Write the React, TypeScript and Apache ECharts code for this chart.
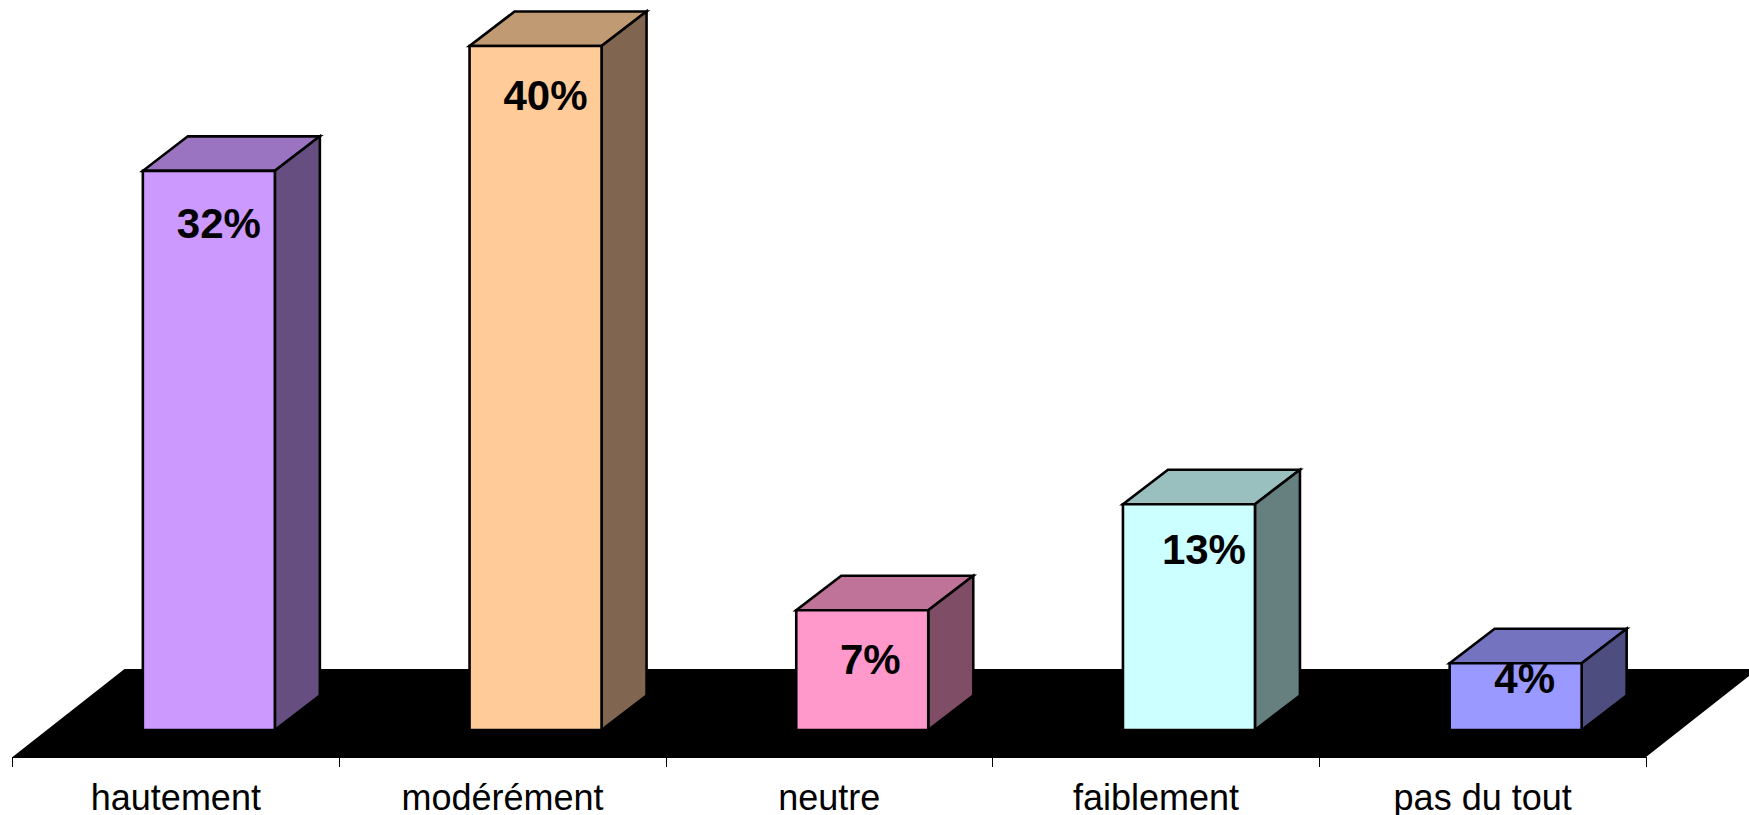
import React, { useEffect, useRef } from "react";
import * as echarts from "echarts";

const categories = ["hautement", "modérément", "neutre", "faiblement", "pas du tout"];
const barValues = [32.7, 40, 7, 13.2, 3.9];
const labelTexts = ["32%", "40%", "7%", "13%", "4%"];
const frontColors = ["#CC99FF", "#FFCC99", "#FF99CC", "#CCFFFF", "#9999FF"];
const topColors = ["#9A74C0", "#C09A73", "#BF7399", "#99BFBF", "#7373BF"];
const sideColors = ["#664E80", "#806650", "#804D66", "#668080", "#4D4D80"];
const labelDx = [10, 10, 8, 15, 9];
const labelDy = [53, 50, 49, 45, 15];

const DEPTH_X = 45;
const DEPTH_Y = 34.5;
const FLOOR_DX = 112;
const FLOOR_DY = 88;
const BAR_SHIFT = 33;
const BAR_WIDTH = 132;
const STROKE = { stroke: "#000", lineWidth: 2.6, lineJoin: "miter" as const };

const renderFloor = (params: any) => {
  const g = params.coordSys;
  const y = g.y + g.height;
  return {
    type: "polygon",
    shape: {
      points: [
        [g.x, y],
        [g.x + g.width, y],
        [g.x + g.width + FLOOR_DX, y - FLOOR_DY],
        [g.x + FLOOR_DX, y - FLOOR_DY],
      ],
    },
    style: { fill: "#000" },
  };
};

const renderBox = (params: any, api: any) => {
  const i = api.value(0);
  const top = api.coord([i, api.value(1)]);
  const base = api.coord([i, 0]);
  const l = top[0] + BAR_SHIFT - BAR_WIDTH / 2;
  const r = l + BAR_WIDTH;
  const t = top[1];
  const b = base[1];
  return {
    type: "group",
    children: [
      {
        type: "polygon",
        shape: { points: [[l, t], [r, t], [r + DEPTH_X, t - DEPTH_Y], [l + DEPTH_X, t - DEPTH_Y]] },
        style: { fill: topColors[i], ...STROKE },
      },
      {
        type: "polygon",
        shape: { points: [[r, t], [r + DEPTH_X, t - DEPTH_Y], [r + DEPTH_X, b - DEPTH_Y], [r, b]] },
        style: { fill: sideColors[i], ...STROKE },
      },
      {
        type: "polygon",
        shape: { points: [[l, t], [r, t], [r, b], [l, b]] },
        style: { fill: frontColors[i], ...STROKE },
      },
      {
        type: "text",
        style: {
          text: labelTexts[i],
          x: top[0] + BAR_SHIFT + labelDx[i],
          y: t + labelDy[i],
          fill: "#000",
          align: "center",
          verticalAlign: "middle",
          font: 'bold 42px "Liberation Sans", Arial, sans-serif',
        },
      },
    ],
  };
};

export default function App() {
  const ref = useRef<HTMLDivElement>(null);
  useEffect(() => {
    const chart = echarts.init(ref.current!, undefined, { renderer: "svg" });
    chart.setOption({
      animation: false,
      backgroundColor: "#fff",
      grid: { left: 12.5, width: 1633.5, top: 11.8, height: 745.5 },
      xAxis: {
        type: "category",
        data: categories,
        boundaryGap: true,
        axisLine: { onZero: false, lineStyle: { color: "#000", width: 1 } },
        axisTick: { show: true, length: 10, lineStyle: { color: "#000", width: 1 } },
        axisLabel: {
          color: "#000",
          fontSize: 36,
          fontFamily: '"Liberation Sans", Arial, sans-serif',
          margin: 22,
          interval: 0,
        },
      },
      yAxis: { type: "value", min: -1.58, max: 42, show: false, splitLine: { show: false } },
      series: [
        { type: "custom", z: 1, renderItem: renderFloor, data: [[0, 0]], silent: true },
        {
          type: "custom",
          z: 3,
          renderItem: renderBox,
          data: barValues.map((v, i) => [i, v]),
          silent: true,
        },
      ],
    });
    return () => chart.dispose();
  }, []);
  return (
    <div
      ref={ref}
      style={{ position: "fixed", left: 0, top: 0, width: 1749, height: 815, background: "#fff" }}
    />
  );
}
